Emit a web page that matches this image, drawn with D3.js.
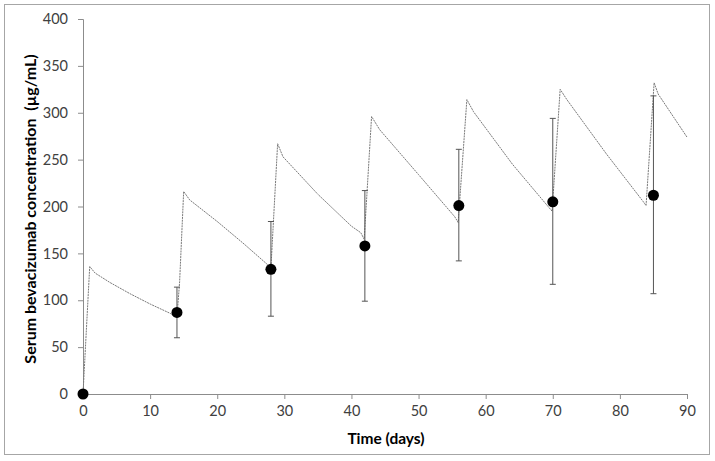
<!DOCTYPE html>
<html><head><meta charset="utf-8">
<script src="https://cdn.jsdelivr.net/npm/d3@7/dist/d3.min.js"></script>
<style>
html,body{margin:0;padding:0;background:#fff;}
svg{display:block;}
text{font-family:Lato,"Open Sans","Noto Sans",sans-serif;}
</style></head>
<body>
<script>
// Simulated concentration profile (time in days, concentration µg/mL)
const curveTime = [0, 1, 1.8, 4, 7, 10, 13, 14,
  14.4, 15, 15.9, 20, 24, 27.5, 28,
  29, 29.8, 35, 40, 41.4, 41.9,
  43, 44.2, 50, 55.4, 55.9,
  57.2, 58.2, 64, 69.3, 69.9,
  71.1, 72.1, 78, 83.5, 83.9,
  85.1, 85.7, 90];
const curveConc = [0, 136, 129, 119, 107, 96, 86, 82,
  120, 216, 207, 184, 160, 138, 134,
  267, 253, 213, 179, 172, 165,
  296, 282, 234, 189, 183,
  314, 301, 245, 200, 195,
  325, 314, 256, 205, 201,
  332, 320, 274];
// Observed means with error bars
const obsTime = [0, 14, 28, 42, 56, 70, 85];
const obsMean = [0, 87, 133, 158, 201, 205, 212];
const obsLow  = [0, 60, 83, 99, 142, 117, 107];
const obsHigh = [0, 114, 184, 217, 261, 294, 318];
const xTicks = [0, 10, 20, 30, 40, 50, 60, 70, 80, 90];
const yTicks = [0, 50, 100, 150, 200, 250, 300, 350, 400];

const W = 715, H = 461;
const svg = d3.select("body").append("svg").attr("width", W).attr("height", H);
svg.append("rect").attr("x", 4.5).attr("y", 4.5).attr("width", 705).attr("height", 450)
  .attr("fill", "#fff").attr("stroke", "#a6a6a6").attr("stroke-width", 1);

const x = d3.scaleLinear().domain([0, 90]).range([83, 687]);
const y = d3.scaleLinear().domain([0, 400]).range([394, 19]);

const axisColor = "#8c8c8c";
const gx = svg.append("g").attr("transform", "translate(0,394)")
  .call(d3.axisBottom(x).tickValues(xTicks).tickSize(5).tickPadding(7).tickFormat(d3.format("d")));
const gy = svg.append("g").attr("transform", "translate(83,0)")
  .call(d3.axisLeft(y).tickValues(yTicks).tickSize(5).tickPadding(10).tickFormat(d3.format("d")));
[gx, gy].forEach(g => {
  g.select(".domain").attr("stroke", axisColor);
  g.selectAll(".tick line").attr("stroke", axisColor);
  g.selectAll(".tick text").attr("fill", "#404040").style("font-size", "14.5px")
    .style("font-family", "Lato, 'Open Sans', sans-serif");
});

// curve
const curve = curveTime.map((t, i) => [t, curveConc[i]]);
svg.append("path").datum(curve)
  .attr("fill", "none").attr("stroke", "#7a7a7a").attr("stroke-width", 1)
  .attr("stroke-dasharray", "2,0.8")
  .attr("d", d3.line().x(d => x(d[0])).y(d => y(d[1])));

// error bars
const obs = obsTime.map((t, i) => ({t, m: obsMean[i], lo: obsLow[i], hi: obsHigh[i]}));
const eb = svg.append("g").attr("stroke", "#555").attr("stroke-width", 1);
obs.filter(d => d.hi > d.lo).forEach(d => {
  eb.append("line").attr("x1", x(d.t)).attr("x2", x(d.t)).attr("y1", y(d.lo)).attr("y2", y(d.hi));
  eb.append("line").attr("x1", x(d.t) - 3).attr("x2", x(d.t) + 3).attr("y1", y(d.lo)).attr("y2", y(d.lo));
  eb.append("line").attr("x1", x(d.t) - 3).attr("x2", x(d.t) + 3).attr("y1", y(d.hi)).attr("y2", y(d.hi));
});
svg.append("g").selectAll("circle").data(obs).join("circle")
  .attr("cx", d => x(d.t)).attr("cy", d => y(d.m)).attr("r", 5.5).attr("fill", "#000");

// titles
svg.append("text").attr("x", 386).attr("y", 444).attr("text-anchor", "middle")
  .style("font-size", "15.5px").style("font-weight", "bold").attr("fill", "#000")
  .text("Time (days)");
svg.append("text").attr("transform", "translate(36,209) rotate(-90)").attr("text-anchor", "middle")
  .style("font-size", "16px").style("font-weight", "bold").style("white-space", "pre").attr("fill", "#000")
  .text("Serum bevacizumab concentration  (µg/mL)");
</script>
</body></html>
